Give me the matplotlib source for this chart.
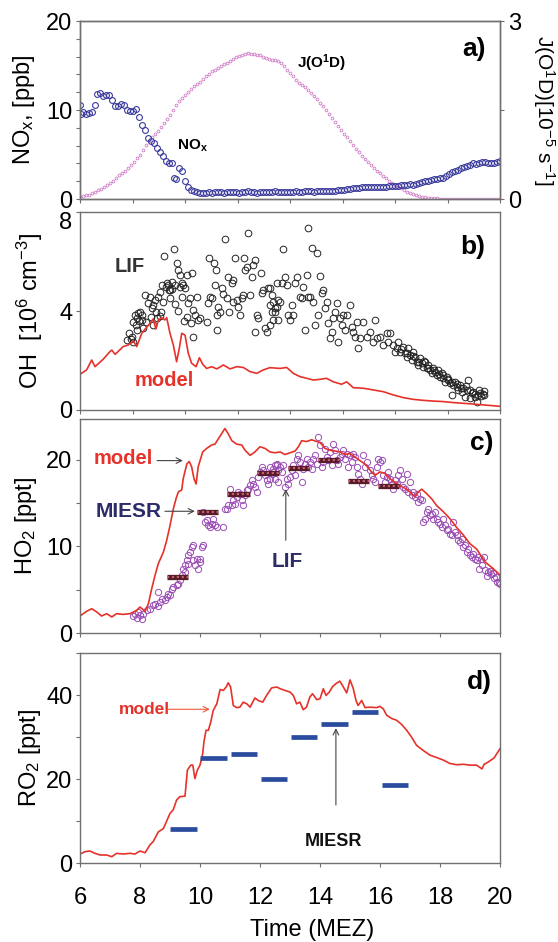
import numpy as np
import matplotlib
matplotlib.use('Agg')
import matplotlib.pyplot as plt

plt.rcParams['font.family'] = ['Liberation Sans', 'DejaVu Sans']
plt.rcParams['mathtext.fontset'] = 'custom'
plt.rcParams['mathtext.rm'] = 'Liberation Sans'
plt.rcParams['mathtext.it'] = 'Liberation Sans:italic'
plt.rcParams['mathtext.bf'] = 'Liberation Sans:bold'

# ---- panel a: NOx (ppb) and J(O1D) (1e-5 s-1) ----
nox_t_early = [6.0, 6.02, 6.1, 6.2, 6.3, 6.4, 6.5, 6.58, 6.68, 6.78, 6.88, 6.98, 7.08, 7.17,
               7.27, 7.37, 7.47, 7.57, 7.67, 7.77, 7.87, 7.97, 8.07, 8.17, 8.27, 8.37, 8.47,
               8.57, 8.67, 8.77, 8.87, 8.97, 9.07, 9.13, 9.2, 9.3, 9.4, 9.5, 9.6, 9.7, 9.8,
               9.9, 10.0]
nox_early = [10.6, 9.5, 9.8, 9.6, 9.7, 9.8, 10.6, 11.8, 11.9, 11.6, 11.7, 11.7, 11.1, 10.5,
             10.4, 10.7, 10.6, 10.0, 9.9, 9.9, 10.1, 9.2, 8.3, 7.8, 6.8, 6.5, 6.3,
             5.7, 5.3, 4.8, 4.3, 4.1, 4.1, 2.4, 2.3, 3.5, 3.1, 2.0, 1.3, 1.0, 0.9,
             0.8, 0.7]
# 10.1 ... 20.0 h, every 0.1 h
nox_late = [0.7, 0.7, 0.75, 0.7, 0.75, 0.8, 0.75, 0.7, 0.75, 0.8,
            0.8, 0.75, 0.7, 0.75, 0.8, 0.85, 0.8, 0.75, 0.7, 0.75,
            0.8, 0.8, 0.75, 0.8, 0.85, 0.8, 0.75, 0.8, 0.8, 0.75,
            0.8, 0.85, 0.8, 0.8, 0.85, 0.9, 0.85, 0.8, 0.85, 0.9,
            0.95, 0.9, 0.85, 0.9, 0.95, 1.0, 1.05, 1.0, 1.1, 1.15,
            1.2, 1.2, 1.25, 1.3, 1.3, 1.35, 1.3, 1.35, 1.4, 1.35,
            1.4, 1.4, 1.45, 1.5, 1.45, 1.5, 1.55, 1.6, 1.6, 1.65,
            1.6, 1.7, 1.8, 1.9, 2.0, 2.05, 2.1, 2.2, 2.3, 2.35,
            2.4, 2.6, 2.8, 3.0, 3.2, 3.3, 3.5, 3.6, 3.7, 3.8,
            4.0, 3.9, 4.1, 4.2, 4.2, 4.1, 4.0, 4.1, 4.2, 4.3]
# 6.0 ... 20.0 h, every 0.1 h
jo1d = [0.03, 0.045, 0.06, 0.075, 0.095, 0.12, 0.145, 0.165, 0.2, 0.235,
        0.27, 0.31, 0.355, 0.4, 0.44, 0.48, 0.52, 0.57, 0.63, 0.69,
        0.75, 0.83, 0.91, 0.98, 1.04, 1.1, 1.15, 1.21, 1.28, 1.35,
        1.42, 1.5, 1.58, 1.65, 1.71, 1.76, 1.81, 1.86, 1.9, 1.94,
        1.98, 2.03, 2.07, 2.11, 2.15, 2.18, 2.21, 2.24, 2.27, 2.3,
        2.33, 2.36, 2.39, 2.41, 2.43, 2.45, 2.46, 2.45, 2.45, 2.43,
        2.42, 2.4, 2.38, 2.36, 2.35, 2.34, 2.33, 2.3, 2.24, 2.18,
        2.12, 2.07, 2.01, 1.96, 1.92, 1.88, 1.84, 1.79, 1.73, 1.68,
        1.62, 1.56, 1.5, 1.44, 1.37, 1.3, 1.23, 1.17, 1.1, 1.04,
        0.97, 0.91, 0.85, 0.79, 0.73, 0.67, 0.62, 0.57, 0.52, 0.48,
        0.44, 0.39, 0.35, 0.31, 0.27, 0.24, 0.21, 0.18, 0.15, 0.12,
        0.10, 0.08, 0.06, 0.05, 0.04, 0.03, 0.02, 0.017, 0.013, 0.01,
        0.008, 0.007, 0.006, 0.005, 0.005, 0.004, 0.004, 0.003, 0.003, 0.003,
        0.003, 0.002, 0.002, 0.002, 0.002, 0.002, 0.002, 0.002, 0.002, 0.002, 0.002]

# ---- panel b: OH (1e6 cm-3) ----
oh_lif = [(7.64, 3.10), (7.72, 2.96), (7.58, 2.83), (7.78, 2.76), (7.69, 2.87), (7.89, 3.23),
          (7.83, 3.84), (7.94, 3.91), (8.0, 3.97), (8.06, 3.84), (7.89, 3.70), (8.06, 3.64),
          (7.75, 3.55), (7.85, 3.45), (7.95, 3.6), (8.1, 3.3), (8.2, 3.55), (8.35, 3.75),
          (8.45, 3.45), (8.55, 3.7), (8.65, 3.8), (8.75, 4.35), (8.85, 4.95), (8.95, 4.85),
          (9.05, 4.9), (9.15, 4.3), (9.25, 4.0), (9.45, 3.6), (9.55, 3.75), (9.7, 3.5),
          (8.17, 4.65), (8.28, 4.31), (8.33, 4.58), (8.39, 4.11), (8.44, 4.24), (8.5, 4.44),
          (8.53, 3.97), (8.61, 4.58), (8.67, 4.78), (8.72, 5.05), (8.69, 3.97), (8.81, 6.24),
          (8.89, 5.12), (8.94, 5.05), (9.0, 4.85), (9.06, 5.16), (9.13, 6.49), (9.0, 4.51),
          (9.17, 5.05), (9.22, 5.93), (9.28, 5.66), (9.33, 5.45), (9.33, 4.98), (9.39, 5.12),
          (9.44, 5.05), (9.5, 4.92), (9.39, 4.58), (9.56, 5.45), (9.61, 4.31), (9.67, 4.51),
          (9.72, 5.52), (9.76, 2.96), (9.78, 4.04), (9.83, 3.84), (9.89, 4.58), (9.94, 3.64),
          (10.0, 3.70), (10.22, 3.57), (10.28, 4.31), (10.33, 4.58), (10.39, 4.51), (10.31, 6.15),
          (10.47, 5.93), (10.53, 5.66), (10.5, 5.05), (10.56, 3.84), (10.61, 4.18), (10.56, 3.23),
          (10.67, 3.97), (10.72, 4.92), (10.78, 4.67), (10.83, 6.90), (10.89, 4.51), (10.94, 5.39),
          (10.98, 3.97), (11.06, 5.12), (11.11, 5.25), (11.11, 4.38), (11.17, 6.15), (11.22, 4.44),
          (11.28, 4.18), (11.33, 3.84), (11.39, 4.54), (11.44, 4.65), (11.47, 6.13), (11.5, 5.66),
          (11.56, 5.79), (11.61, 7.14), (11.67, 4.65), (11.72, 5.39), (11.78, 5.86), (11.83, 6.06),
          (11.83, 3.16), (11.89, 3.84), (11.94, 3.70), (12.02, 5.52), (12.06, 4.71), (12.11, 4.85),
          (12.17, 3.30), (12.22, 3.16), (12.28, 4.92), (12.33, 4.24), (12.39, 3.97), (12.44, 3.64),
          (12.5, 4.11), (12.56, 5.12), (12.61, 4.44), (12.33, 4.92), (12.39, 4.65), (12.44, 4.38),
          (12.5, 3.97), (12.55, 4.18), (12.33, 3.43), (12.61, 3.64), (12.66, 4.38), (12.72, 5.12),
          (12.77, 6.51), (12.83, 5.39), (12.89, 5.05), (12.94, 3.84), (13.0, 3.64), (13.05, 4.24),
          (13.11, 3.84), (13.16, 5.12), (13.22, 5.39), (13.33, 4.58), (13.39, 4.51), (13.44, 4.98),
          (13.5, 3.23), (13.55, 5.45), (13.59, 7.34), (13.61, 4.58), (13.66, 4.58), (13.72, 6.56),
          (13.77, 4.38), (13.83, 3.43), (13.89, 6.33), (13.94, 3.84), (14.0, 5.43), (14.05, 4.71),
          (14.11, 4.85), (14.16, 4.11), (14.22, 4.38), (14.27, 3.50), (14.33, 2.90), (14.39, 3.16),
          (14.44, 3.70), (14.5, 3.97), (14.55, 4.31), (14.61, 2.76), (14.66, 3.70), (14.72, 3.43),
          (14.77, 3.84), (14.83, 3.23), (14.89, 3.84), (15.0, 4.24), (15.05, 3.37), (15.11, 3.16),
          (15.16, 2.96), (15.22, 3.57), (15.27, 2.49), (15.33, 2.90), (15.44, 3.57), (15.55, 2.96),
          (15.66, 3.16), (15.77, 2.76), (15.83, 3.64), (15.89, 2.90), (16.0, 2.96), (16.11, 2.63),
          (16.22, 3.10), (16.27, 2.76), (16.33, 3.10), (16.44, 2.63), (16.55, 2.49), (16.61, 2.76),
          (16.66, 2.36), (16.77, 2.56), (16.83, 2.29), (16.89, 2.15), (16.94, 2.49), (17.0, 2.22),
          (17.05, 2.02), (17.11, 2.36), (17.16, 2.15), (17.22, 1.95), (17.27, 1.82), (17.33, 2.09),
          (17.39, 1.89), (17.44, 1.75), (17.5, 1.95), (17.55, 1.68), (17.61, 1.82), (17.66, 1.62),
          (17.72, 1.48), (17.77, 1.68), (17.83, 1.55), (17.89, 1.41), (17.94, 1.62), (18.0, 1.35),
          (18.05, 1.48), (18.11, 1.28), (18.16, 1.14), (18.22, 1.35), (18.27, 1.21), (18.33, 1.08),
          (18.39, 0.61), (18.44, 1.01), (18.5, 1.14), (18.55, 0.94), (18.61, 0.81), (18.66, 1.01),
          (18.72, 0.74), (18.78, 0.88), (18.83, 0.54), (18.89, 0.81), (18.94, 1.21), (19.0, 0.47),
          (19.05, 0.67), (19.11, 0.74), (19.16, 0.54), (19.22, 0.34), (19.27, 0.61), (19.33, 0.7),
          (19.38, 0.55), (19.42, 0.65), (19.47, 0.6), (16.5, 2.35), (16.7, 2.45), (16.9, 2.3),
          (17.1, 2.2), (17.3, 1.95), (17.45, 2.0), (17.6, 1.7), (17.8, 1.6), (17.95, 1.45),
          (18.1, 1.4), (18.25, 1.25), (18.4, 1.15), (18.55, 1.05), (18.7, 0.9), (18.85, 0.95),
          (19.0, 0.8), (19.15, 0.65), (19.3, 0.8), (19.45, 0.75)]
oh_model_t = [6.0, 6.22, 6.39, 6.5, 6.78, 7.0, 7.06, 7.17, 7.44, 7.61, 7.78, 7.89, 8.06, 8.17,
              8.33, 8.44, 8.53, 8.61, 8.72, 8.83, 8.89, 9.0, 9.11, 9.22, 9.31, 9.39, 9.5, 9.61,
              9.72, 9.87, 9.98, 10.09, 10.22, 10.39, 10.56, 10.78, 11.0, 11.22, 11.44, 11.67,
              11.89, 12.11, 12.33, 12.67, 12.89, 13.11, 13.33, 13.56, 13.78, 14.0, 14.22, 14.44,
              14.72, 14.89, 15.11, 15.44, 15.78, 16.11, 16.44, 16.78, 17.11, 17.44, 17.78, 18.11,
              18.44, 18.78, 19.11, 19.5, 20.0]
oh_model = [1.44, 1.62, 2.02, 1.75, 2.06, 2.36, 2.42, 2.25, 2.56, 2.63, 2.79, 2.56, 3.10, 3.27,
            3.50, 3.68, 3.27, 3.64, 3.73, 3.64, 3.73, 3.10, 2.63, 1.95, 2.49, 3.10, 3.03, 2.29,
            1.89, 1.75, 2.11, 1.85, 1.68, 1.75, 1.66, 1.82, 1.66, 1.75, 1.72, 1.55,
            1.48, 1.62, 1.71, 1.68, 1.72, 1.48, 1.35, 1.28, 1.21, 1.24, 1.28, 1.14,
            1.04, 1.14, 0.90, 0.88, 0.81, 0.74, 0.61, 0.50, 0.43, 0.39, 0.36, 0.34,
            0.30, 0.27, 0.24, 0.2, 0.15]

# ---- panel c: HO2 (ppt) ----
ho2_lif = [(7.78, 1.96), (7.89, 1.73), (8.0, 2.04), (8.06, 1.65), (7.94, 2.42), (8.11, 2.23),
           (7.83, 2.23), (8.22, 2.62), (8.33, 2.81), (8.44, 3.19), (8.5, 3.38), (8.61, 3.12),
           (8.67, 3.58), (8.61, 4.73), (8.72, 3.96), (8.83, 3.77), (8.89, 4.15), (8.94, 4.54),
           (9.0, 4.35), (9.06, 5.12), (9.11, 5.31), (9.22, 5.5), (9.28, 5.69), (9.33, 6.08),
           (9.39, 6.65), (9.44, 7.42), (9.5, 7.81), (9.56, 8.38), (9.61, 8.96), (9.67, 9.35),
           (9.72, 9.92), (9.5, 7.04), (9.61, 8.0), (9.78, 8.38), (9.83, 7.81), (9.89, 8.58),
           (9.94, 7.42), (10.0, 8.58), (9.78, 10.12), (10.06, 9.92), (10.11, 10.12), (10.0, 8.19),
           (10.17, 12.81), (10.22, 13.0), (10.28, 12.42), (10.33, 12.23), (10.39, 12.62),
           (10.44, 13.19), (10.5, 12.42), (10.56, 12.23), (10.11, 13.96), (10.78, 12.23),
           (10.83, 14.35), (10.89, 14.35), (10.94, 14.73), (11.0, 16.65), (11.06, 14.73),
           (11.11, 15.31), (11.17, 14.92), (11.22, 15.69), (11.28, 16.27), (11.33, 16.08),
           (11.39, 15.31), (11.44, 14.73), (11.5, 15.88), (11.56, 16.46), (11.61, 16.65),
           (11.67, 17.04), (11.72, 17.62), (11.78, 17.23), (11.83, 16.85), (11.89, 16.27),
           (11.94, 18.0), (12.0, 18.58), (12.06, 19.15), (12.11, 18.77), (12.17, 18.19),
           (12.22, 17.62), (12.28, 17.23), (12.33, 17.81), (12.39, 18.38), (12.44, 18.96),
           (12.5, 19.35), (12.56, 19.54), (12.61, 18.77), (12.67, 19.15), (12.33, 19.15),
           (12.44, 18.58), (12.5, 17.81), (12.55, 19.35), (12.61, 17.42), (12.72, 18.58),
           (12.77, 19.35), (12.83, 16.85), (12.89, 17.81), (12.94, 17.23), (13.0, 18.0),
           (13.05, 18.77), (13.11, 19.35), (13.16, 18.19), (13.22, 20.12), (13.27, 20.5),
           (13.33, 19.73), (13.39, 17.42), (13.44, 18.96), (13.5, 19.54), (13.55, 20.12),
           (13.61, 19.15), (13.66, 19.73), (13.72, 18.96), (13.77, 20.12), (13.83, 20.5),
           (13.89, 19.54), (13.94, 22.62), (14.0, 21.65), (14.05, 19.15), (14.11, 19.73),
           (14.16, 21.27), (14.22, 20.31), (14.27, 19.92), (14.33, 20.88), (14.39, 19.35),
           (14.44, 21.85), (14.5, 21.08), (14.55, 19.92), (14.61, 19.54), (14.66, 20.31),
           (14.72, 20.69), (14.77, 21.08), (14.83, 20.12), (14.89, 20.69), (14.94, 19.15),
           (15.0, 20.5), (15.05, 19.73), (15.11, 20.69), (15.16, 20.31), (15.22, 19.15),
           (15.27, 18.38), (15.33, 17.81), (15.39, 17.23), (15.44, 20.5), (15.5, 19.15),
           (15.55, 19.73), (15.66, 18.77), (15.72, 18.19), (15.77, 17.81), (15.83, 17.42),
           (15.89, 19.15), (15.94, 20.12), (16.0, 19.73), (16.05, 19.92), (16.11, 18.19),
           (16.16, 17.42), (16.22, 18.0), (16.27, 18.58), (16.33, 17.81), (16.39, 17.23),
           (16.44, 16.65), (16.5, 17.62), (16.55, 17.23), (16.61, 18.19), (16.66, 18.77),
           (16.72, 17.81), (16.77, 16.85), (16.83, 16.65), (16.89, 18.38), (16.94, 16.27),
           (17.0, 17.42), (17.05, 15.88), (17.11, 16.27), (17.16, 15.69), (17.22, 16.08),
           (17.27, 15.12), (17.33, 15.5), (17.39, 15.31), (17.44, 12.81), (17.5, 13.19),
           (17.55, 13.96), (17.61, 14.35), (17.66, 13.58), (17.72, 13.77), (17.77, 13.19),
           (17.83, 13.96), (17.89, 13.19), (17.94, 12.81), (18.0, 12.62), (18.05, 12.23),
           (18.11, 13.19), (18.16, 12.42), (18.22, 11.85), (18.27, 12.04), (18.33, 11.46),
           (18.39, 11.27), (18.44, 12.81), (18.5, 11.65), (18.55, 11.27), (18.61, 10.69),
           (18.66, 10.5), (18.72, 10.88), (18.78, 9.92), (18.83, 10.12), (18.89, 9.35),
           (18.94, 9.73), (19.0, 8.96), (19.05, 8.77), (19.11, 9.15), (19.16, 8.58),
           (19.22, 8.38), (19.27, 8.77), (19.31, 7.42), (19.35, 8.5), (19.4, 7.9), (19.45, 8.8),
           (19.5, 7.3), (19.55, 6.6), (19.6, 7.0), (19.65, 7.2), (19.7, 6.8), (19.75, 6.9),
           (19.8, 6.3), (19.85, 6.5), (19.9, 5.9), (19.95, 5.8), (20.0, 5.6)]
ho2_model = [(6.0, 1.96), (6.22, 2.5), (6.39, 2.8), (6.56, 2.42), (6.72, 1.96), (6.89, 2.23),
             (7.06, 1.85), (7.22, 2.23), (7.44, 2.15), (7.67, 2.23), (7.89, 2.62), (8.0, 3.0),
             (8.17, 2.5), (8.28, 3.38), (8.39, 5.1), (8.5, 6.65), (8.61, 8.0), (8.78, 9.35),
             (8.89, 10.7), (9.0, 12.4), (9.11, 14.3), (9.2, 15.5), (9.28, 16.3), (9.39, 16.5),
             (9.44, 17.8), (9.56, 19.5), (9.64, 19.8), (9.72, 19.2), (9.8, 17.8), (9.87, 17.2),
             (9.94, 19.2), (10.02, 20.1), (10.09, 20.9), (10.22, 21.3), (10.39, 21.7), (10.5, 21.8),
             (10.61, 22.4), (10.72, 23.0), (10.83, 23.6), (10.94, 23.0), (11.06, 22.2),
             (11.22, 21.8), (11.39, 21.7), (11.5, 21.1), (11.67, 20.5), (11.83, 20.9), (12.0, 21.5),
             (12.17, 21.3), (12.33, 20.9), (12.5, 20.8), (12.67, 20.9), (12.83, 20.6), (13.0, 20.8),
             (13.17, 21.0), (13.28, 21.5), (13.39, 22.2), (13.55, 22.1), (13.72, 22.3),
             (13.89, 22.1), (14.0, 22.0), (14.17, 21.3), (14.33, 21.1), (14.5, 21.0),
             (14.67, 20.9), (14.83, 20.6), (15.0, 20.7), (15.17, 20.3), (15.33, 19.9),
             (15.5, 19.5), (15.67, 18.8), (15.83, 18.2), (16.0, 18.6), (16.17, 18.4),
             (16.33, 17.8), (16.5, 17.4), (16.67, 17.0), (16.89, 16.6), (17.05, 16.1),
             (17.17, 15.7), (17.28, 16.3), (17.39, 16.6), (17.55, 16.1), (17.72, 15.5),
             (17.89, 14.7), (18.11, 14.0), (18.33, 13.2), (18.55, 12.2), (18.78, 11.3),
             (19.0, 10.3), (19.22, 9.7), (19.5, 8.2), (19.75, 7.5), (20.0, 6.7)]
ho2_miesr_start = [8.89, 9.91, 10.91, 11.91, 12.94, 13.94, 14.94, 15.94]
ho2_miesr_end = [9.61, 10.61, 11.67, 12.64, 13.64, 14.64, 15.64, 16.64]
ho2_miesr = [6.5, 14.0, 16.0, 18.5, 19.0, 20.0, 17.5, 17.0]

# ---- panel d: RO2 (ppt) ----
ro2_model = [(6.0, 2.14), (6.17, 2.7), (6.33, 2.85), (6.5, 2.3), (6.67, 1.9), (6.89, 1.9),
             (7.06, 1.5), (7.22, 2.3), (7.44, 2.14), (7.67, 2.3), (7.83, 2.14), (8.0, 2.85),
             (8.17, 2.45), (8.33, 4.3), (8.44, 5.1), (8.61, 7.4), (8.78, 8.2), (9.0, 11.8),
             (9.11, 12.7), (9.22, 15.0), (9.33, 15.8), (9.5, 15.9), (9.58, 22.1), (9.69, 23.3),
             (9.76, 23.3), (9.83, 20.1), (9.91, 22.1), (10.0, 23.3), (10.09, 26.0), (10.13, 28.8),
             (10.2, 31.6), (10.28, 31.6), (10.36, 33.6), (10.44, 36.3), (10.56, 37.9),
             (10.67, 41.3), (10.78, 41.1), (10.87, 41.9), (10.94, 42.9), (11.02, 41.9),
             (11.11, 37.5), (11.22, 37.0), (11.33, 37.1), (11.44, 38.3), (11.56, 37.9),
             (11.67, 37.1), (11.83, 39.3), (11.94, 38.7), (12.09, 38.3), (12.22, 39.9),
             (12.39, 41.7), (12.56, 41.9), (12.67, 41.5), (12.83, 41.1), (13.0, 40.7),
             (13.11, 39.9), (13.22, 37.9), (13.33, 38.3), (13.44, 36.5), (13.55, 37.1),
             (13.66, 39.5), (13.75, 40.3), (13.89, 38.9), (14.0, 39.1), (14.11, 41.5),
             (14.2, 39.9), (14.31, 40.7), (14.42, 42.0), (14.53, 42.7), (14.66, 43.3),
             (14.77, 42.0), (14.89, 40.5), (15.0, 43.6), (15.11, 41.5), (15.2, 38.7),
             (15.27, 37.5), (15.39, 38.7), (15.5, 37.0), (15.66, 37.1), (15.89, 37.0),
             (16.0, 37.3), (16.11, 36.7), (16.22, 35.2), (16.39, 34.4), (16.55, 34.0),
             (16.72, 33.0), (16.89, 31.6), (17.05, 30.0), (17.22, 28.0), (17.44, 26.8),
             (17.66, 25.7), (17.89, 25.1), (18.11, 24.5), (18.33, 23.7), (18.55, 23.4),
             (18.78, 23.5), (19.0, 23.3), (19.22, 23.3), (19.4, 22.4), (19.47, 23.5),
             (19.6, 24.0), (19.8, 25.0), (20.0, 27.2)]
ro2_miesr_start = [9.0, 10.0, 11.02, 12.02, 13.03, 14.03, 15.05, 16.05]
ro2_miesr_end = [9.89, 10.89, 11.89, 12.89, 13.91, 14.92, 15.92, 16.92]
ro2_miesr = [8.0, 25.0, 26.0, 20.0, 30.0, 33.0, 36.0, 18.5]

RED = '#e5322a'
SPINE = '#707070'
FS = 17

fig = plt.figure(figsize=(5.58, 9.42), dpi=100)
left, width = 80 / 558, 420 / 558
ax_a = fig.add_axes([left, 1 - 199 / 942, width, 178 / 942])
ax_b = fig.add_axes([left, 1 - 410 / 942, width, 198 / 942])
ax_c = fig.add_axes([left, 1 - 633 / 942, width, 214 / 942])
ax_d = fig.add_axes([left, 1 - 863 / 942, width, 210 / 942])
ax_j = ax_a.twinx()

for ax in [ax_a, ax_b, ax_c, ax_d, ax_j]:
    ax.set_xlim(6, 20)
    for sp in ax.spines.values():
        sp.set_color(SPINE)
        sp.set_linewidth(1.0)
    ax.tick_params(direction='out', length=3, width=0.8, color=SPINE, labelsize=FS, pad=2.5)


def set_ylab(ax, text, xpos, **kw):
    ax.set_ylabel(text, fontsize=kw.pop('fontsize', FS), **kw)
    ax.yaxis.label.set_va('center')
    ax.yaxis.set_label_coords(xpos, 0.5)


# panel a
nox_t = list(nox_t_early) + list(10.1 + 0.1 * np.arange(len(nox_late)))
nox = list(nox_early) + list(nox_late)
j_t = 6.0 + 0.1 * np.arange(len(jo1d))
ax_j.plot(j_t, jo1d, 'o', ms=2.0, mfc='none', mec='#d07ac6', mew=0.6)
ax_a.plot(nox_t, nox, 'o', ms=4.2, mfc='none', mec='#3a3a9c', mew=0.8)
ax_a.set_zorder(ax_j.get_zorder() + 1)
ax_a.patch.set_visible(False)
ax_a.set_ylim(0, 20)
ax_a.set_yticks(np.arange(0, 21, 2))
ax_a.set_yticklabels([str(v) if v % 10 == 0 else '' for v in range(0, 21, 2)])
ax_j.set_ylim(0, 3)
ax_j.set_yticks([0, 1.5, 3])
ax_j.set_yticklabels(['0', '', '3'])
ax_a.set_xticks(np.linspace(6, 20, 9))
ax_a.set_xticklabels([])
set_ylab(ax_a, r'NO$_\mathrm{x}$, [ppb]', -0.133)
set_ylab(ax_j, r'J(O$^\mathrm{1}$D)[10$^\mathrm{-5}$ s$^\mathrm{-1}$]', 1.105, rotation=270, fontsize=15)
ax_a.text(9.23, 6.0, r'NO$_\mathbf{x}$', fontsize=11, fontweight='bold', va='center')
ax_a.text(13.23, 15.3, r'J(O$^\mathbf{1}$D)', fontsize=11, fontweight='bold', va='center')
ax_a.text(18.73, 16.85, 'a)', fontsize=19, fontweight='bold', va='center')

# panel b
oh_t, oh_v = zip(*oh_lif)
ax_b.plot(oh_t, oh_v, 'o', ms=4.8, mfc='none', mec='#222222', mew=0.7)
ax_b.plot(oh_model_t, oh_model, color=RED, lw=1.2)
ax_b.set_ylim(0, 8)
ax_b.set_yticks([0, 4, 8])
ax_b.yaxis.get_major_ticks()[-1].label1.set_va('top')
ax_b.set_xticks(np.linspace(6, 20, 9))
ax_b.set_xticklabels([])
set_ylab(ax_b, r'OH  [10$^\mathrm{6}$ cm$^\mathrm{-3}$]', -0.119)
ax_b.text(7.17, 5.8, 'LIF', fontsize=14.5, fontweight='bold', color='#333333', va='center')
ax_b.text(7.83, 1.2, 'model', fontsize=14.5, fontweight='bold', color=RED, va='center')
ax_b.text(18.67, 6.6, 'b)', fontsize=19, fontweight='bold', va='center')

# panel c
h_t, h_v = zip(*ho2_lif)
ax_c.plot(h_t, h_v, 'o', ms=4.5, mfc='none', mec='#9a4cb6', mew=0.7)
hm_t, hm_v = zip(*ho2_model)
ax_c.plot(hm_t, hm_v, color=RED, lw=1.2)
ax_c.hlines(ho2_miesr, ho2_miesr_start, ho2_miesr_end, colors='#561a28', lw=3.8, capstyle='butt', zorder=4)
ax_c.hlines(ho2_miesr, ho2_miesr_start, ho2_miesr_end, colors='#c0606e', lw=1.6,
            linestyles=(0, (1, 1.2)), capstyle='butt', zorder=5)
ax_c.set_ylim(0, 24.7)
ax_c.set_yticks([0, 5, 10, 15, 20])
ax_c.set_yticklabels(['0', '', '10', '', '20'])
ax_c.set_xticks(np.arange(6, 21, 2))
ax_c.set_xticklabels([])
set_ylab(ax_c, r'HO$_\mathrm{2}$ [ppt]', -0.128)
arrow_gray = dict(arrowstyle='->', color='#444444', lw=0.8, shrinkA=0, shrinkB=0)
ax_c.text(6.47, 20.1, 'model', fontsize=14.5, fontweight='bold', color=RED, va='center')
ax_c.annotate('', xy=(9.43, 19.9), xytext=(8.57, 19.9), arrowprops=arrow_gray)
ax_c.text(6.53, 14.0, 'MIESR', fontsize=15, fontweight='bold', color='#2c2c68', va='center')
ax_c.annotate('', xy=(9.83, 14.05), xytext=(8.83, 14.05), arrowprops=arrow_gray)
ax_c.text(12.4, 8.3, 'LIF', fontsize=15, fontweight='bold', color='#2c2c68', va='center')
ax_c.annotate('', xy=(12.86, 16.6), xytext=(12.86, 10.7), arrowprops=arrow_gray)
ax_c.text(19.0, 21.9, 'c)', fontsize=19, fontweight='bold', va='center')

# panel d
rm_t, rm_v = zip(*ro2_model)
ax_d.plot(rm_t, rm_v, color=RED, lw=1.2)
ax_d.hlines(ro2_miesr, ro2_miesr_start, ro2_miesr_end, colors='#2b4c9e', lw=3.4, capstyle='butt', zorder=4)
ax_d.set_ylim(0, 50)
ax_d.set_yticks(np.arange(0, 51, 10))
ax_d.set_yticklabels(['0', '', '20', '', '40', ''])
ax_d.set_xticks(np.arange(6, 21, 2))
ax_d.tick_params(axis='x', pad=14)
set_ylab(ax_d, r'RO$_\mathrm{2}$ [ppt]', -0.119)
ax_d.text(7.3, 36.6, 'model', fontsize=12.5, fontweight='bold', color=RED, va='center')
ax_d.annotate('', xy=(10.33, 36.6), xytext=(8.9, 36.6),
              arrowprops=dict(arrowstyle='->', color='#f05a3a', lw=0.8, shrinkA=0, shrinkB=0))
ax_d.text(13.5, 5.1, 'MIESR', fontsize=13, fontweight='bold', color='#111111', va='center')
ax_d.annotate('', xy=(14.53, 32.1), xytext=(14.53, 13.8), arrowprops=arrow_gray)
ax_d.text(18.9, 43.2, 'd)', fontsize=19, fontweight='bold', va='center')

fig.text(312 / 558, 1 - 930 / 942, 'Time (MEZ)', fontsize=FS, ha='center', va='center')

fig.savefig('out.png', dpi=100)
